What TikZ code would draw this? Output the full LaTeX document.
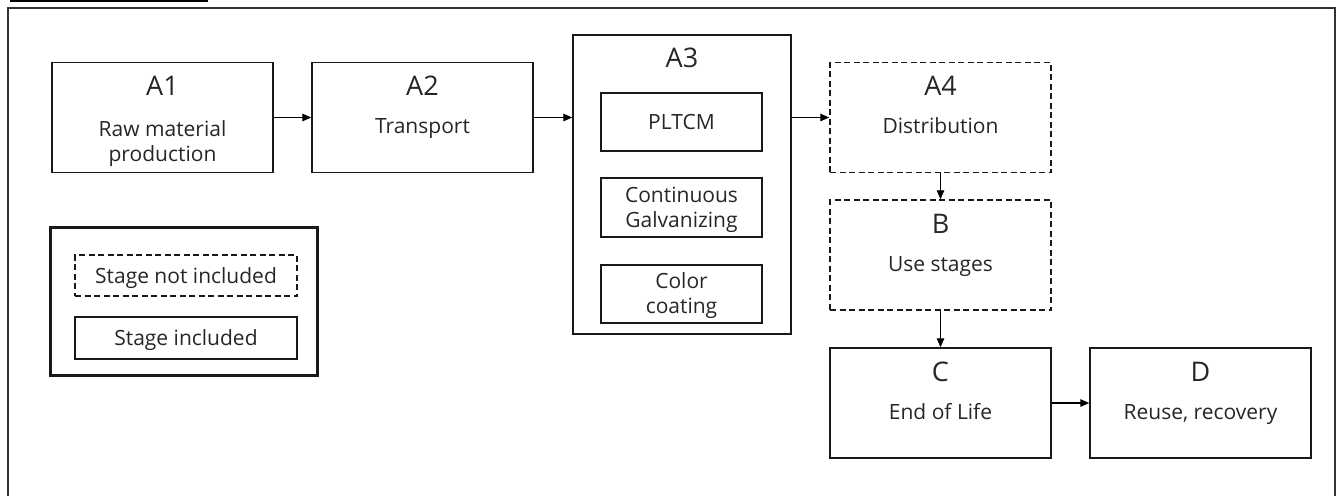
\documentclass[tikz,border=0pt]{standalone}
\usepackage{fontspec}
\setmainfont{Open Sans}
\usetikzlibrary{arrows.meta}
\begin{document}
\begin{tikzpicture}[x=1pt,y=-1pt,
  box/.style={draw=black!90, line width=1.5pt, rectangle, inner sep=0pt},
  incl/.style={box},
  excl/.style={box, dash pattern=on 6pt off 3.5pt},
  big/.style={minimum width=221pt, minimum height=110pt},
  sub/.style={box, minimum width=161pt, minimum height=58pt},
  lbl/.style={font=\fontsize{27}{31}\selectfont, text=black!85, inner sep=0pt, text height=19.3pt, text depth=0pt},
  txt/.style={font=\fontsize{21}{25}\selectfont, text=black!85, inner sep=0pt, text height=15pt, text depth=0pt},
  arr/.style={line width=1.4pt, black, -{Triangle[length=9pt,width=7.5pt]}}]

\useasboundingbox (0,0) rectangle (1340,495);

% outer frame and title underline
\draw[line width=1.6pt, black!80] (8,510) -- (8,8) -- (1335,8) -- (1335,510);
\draw[line width=2pt, black] (10,1.5) -- (208,1.5);

% main boxes
\node[incl, big] (a1) at (162.5,117.5) {};
\node[incl, big] (a2) at (422.5,117.5) {};
\node[incl, minimum width=218pt, minimum height=299pt] (a3) at (682,184.5) {};
\node[excl, big] (a4) at (940.5,117.5) {};
\node[excl, big] (b) at (940.5,255) {};
\node[incl, big] (c) at (940.5,403) {};
\node[incl, big] (d) at (1200.5,403) {};

% A3 sub-boxes
\node[sub] (p1) at (681.5,122) {};
\node[sub, minimum height=59pt] (p2) at (681.5,207.5) {};
\node[sub] (p3) at (681.5,294) {};

% legend
\node[box, line width=3pt, minimum width=267pt, minimum height=148pt] (leg) at (183.5,301) {};
\node[excl, minimum width=222pt, minimum height=41pt] (legx) at (186,275.5) {};
\node[incl, minimum width=222pt, minimum height=42pt] (legi) at (186,338) {};

% labels
\node[lbl] (a1l) at (162.5,86) {A1};
\node[txt] (a1t1) at (162.5,129) {Raw material};
\node[txt] (a1t2) at (162.5,154) {production};
\node[lbl] (a2l) at (422.5,86) {A2};
\node[txt] (a2t) at (422.5,126) {Transport};
\node[lbl] (a3l) at (682,58) {A3};
\node[txt] (p1t) at (681.5,122) {PLTCM};
\node[txt] (p2t1) at (681.5,195) {Continuous};
\node[txt] (p2t2) at (681.5,220) {Galvanizing};
\node[txt] (p3t1) at (681.5,281) {Color};
\node[txt] (p3t2) at (681.5,306) {coating};
\node[lbl] (a4l) at (940.5,86) {A4};
\node[txt] (a4t) at (940.5,126) {Distribution};
\node[lbl] (bl) at (940.5,224) {B};
\node[txt] (bt) at (940.5,264) {Use stages};
\node[lbl] (cl) at (940.5,372) {C};
\node[txt] (ct) at (940.5,412) {End of Life};
\node[lbl] (dl) at (1200.5,372) {D};
\node[txt] (dt) at (1200.5,412) {Reuse, recovery};
\node[txt] (legxt) at (186,275.5) {Stage not included};
\node[txt] (legit) at (186,338) {Stage included};

% connectors
\draw[arr] (a1.east) -- (a2.west);
\draw[arr] (a2.east) -- (a2.east -| a3.west);
\draw[arr] (a3.east |- a4.west) -- (a4.west);
\draw[arr] (a4.south) -- (b.north);
\draw[arr] (b.south) -- (c.north);
\draw[arr] (c.east) -- (d.west);
\end{tikzpicture}
\end{document}
